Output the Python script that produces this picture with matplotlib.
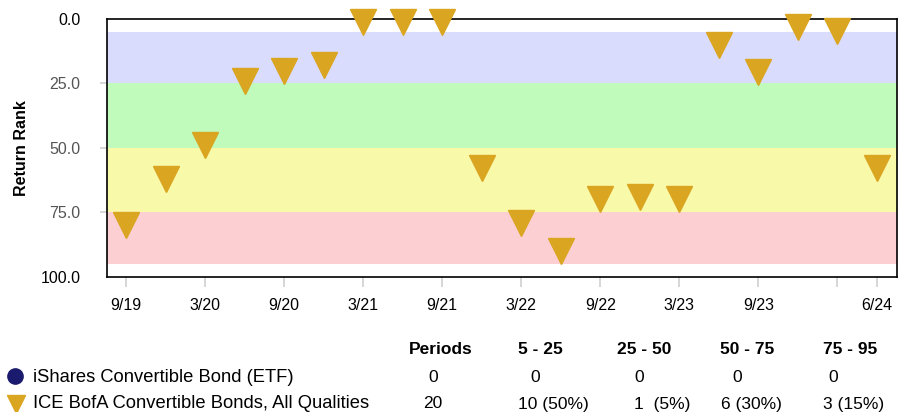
import matplotlib.pyplot as plt

plt.rcParams['font.family'] = ['Liberation Sans', 'DejaVu Sans']

# quarterly return rank of the benchmark (0 = best)
quarters = ['9/19', '12/19', '3/20', '6/20', '9/20', '12/20', '3/21', '6/21', '9/21', '12/21',
            '3/22', '6/22', '9/22', '12/22', '3/23', '6/23', '9/23', '12/23', '3/24', '6/24']
bench_rank = [80, 62, 49, 24, 20, 18, 1, 1, 1, 58,
              79, 90, 70, 69, 70, 10, 20.5, 3, 4.5, 58]
etf_rank = []  # no periods for the ETF

tick_idx = [0, 2, 4, 6, 8, 10, 12, 14, 16, 18, 19]
tick_lbl = ['9/19', '3/20', '9/20', '3/21', '9/21', '3/22', '9/22', '3/23', '9/23', '', '6/24']

bands = [(5, 25, '#dadcfe'), (25, 50, '#c0fbbc'), (50, 75, '#f9f9aa'), (75, 95, '#fcd0d3')]

series_names = ['iShares Convertible Bond (ETF)', 'ICE BofA Convertible Bonds, All Qualities']
col_heads = ['Periods', '5 - 25', '25 - 50', '50 - 75', '75 - 95']
etf_row = ['0', '0', '0', '0', '0']
bench_row = ['20', '10 (50%)', '1  (5%)', '6 (30%)', '3 (15%)']

W, H = 900, 412
fig = plt.figure(figsize=(W / 100, H / 100), dpi=100)
ax = fig.add_axes([106.7 / W, 1 - 276.7 / H, 790 / W, 257.7 / H])

for lo, hi, c in bands:
    ax.axhspan(lo, hi, color=c, lw=0, zorder=0)

x = list(range(len(quarters)))
ax.plot(x, bench_rank, linestyle='none', marker='v', markersize=19,
        color='#DAA520', clip_on=False, zorder=3)

ax.set_xlim(-0.49, 19.5)
ax.set_ylim(100, 0)
ax.set_xticks(tick_idx)
ax.set_xticklabels(tick_lbl, fontsize=11.5)
ax.set_yticks([0, 25, 50, 75, 100])
ax.set_yticklabels(['0.0', '25.0', '50.0', '75.0', '100.0'], fontsize=11.5)
ax.tick_params(axis='x', length=7, width=1.2, color='#d0d0d0', pad=8)
ax.tick_params(axis='y', length=5, width=1.2, color='#d0d0d0', pad=14)
for i, t in enumerate(ax.get_yticklabels()):
    t.set_color('black' if i in (0, 4) else '#555555')
ylines = ax.yaxis.get_ticklines()
for i, tl in enumerate(ylines):
    if i // 2 in (0, 4):
        tl.set_visible(False)
for s in ax.spines.values():
    s.set_linewidth(1.2)
ax.set_ylabel('Return Rank', fontsize=11.5, fontweight='bold', labelpad=10)
ax.yaxis.set_label_coords(-0.098, 0.5)

# summary table below the chart
def fx(px):
    return px / W

def fy(py):
    return 1 - py / H

head_x = [409, 518, 617, 720, 823]
etf_x = [428, 530, 634, 732, 828]
bench_x = [423, 518, 634, 721, 823]
for xx, t in zip(head_x, col_heads):
    fig.text(fx(xx), fy(350), t, fontsize=12.5, fontweight='bold', va='center', ha='left')
for xx, t in zip(etf_x, etf_row):
    fig.text(fx(xx), fy(377), t, fontsize=12.5, va='center', ha='left')
for xx, t in zip(bench_x, bench_row):
    fig.text(fx(xx), fy(404), t, fontsize=12.5, va='center', ha='left')

fig.text(fx(33), fy(377), series_names[0], fontsize=13.2, va='center', ha='left')
fig.text(fx(33), fy(404), series_names[1], fontsize=13.2, va='center', ha='left')

lg = fig.add_axes([0, 0, 1, 1], zorder=-1)
lg.set_xlim(0, W)
lg.set_ylim(H, 0)
lg.axis('off')
lg.plot([15], [376], marker='o', markersize=11, color='#1a1a6e', linestyle='none')
lg.plot([16], [404], marker='v', markersize=13, color='#DAA520', linestyle='none')

fig.savefig('out.png', dpi=100)
